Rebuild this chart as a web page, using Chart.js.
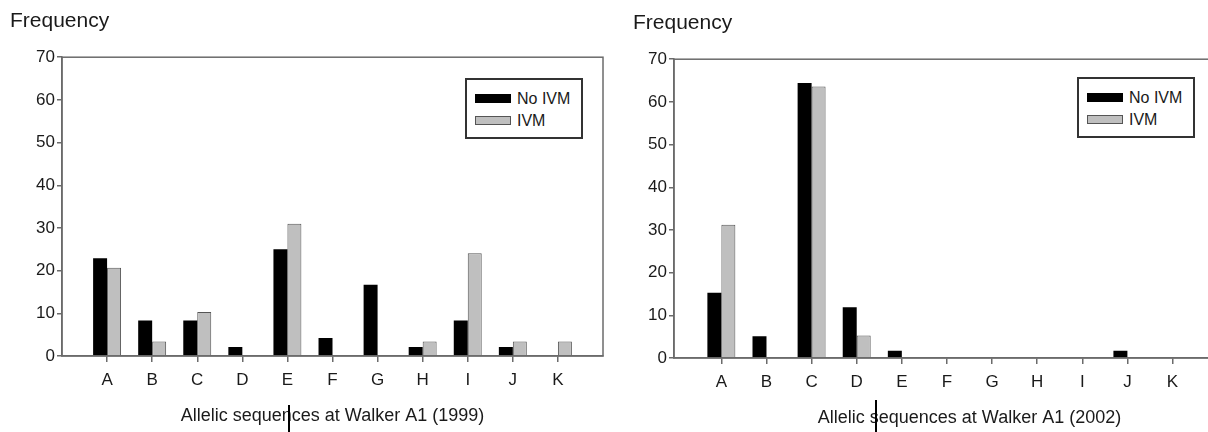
<!DOCTYPE html>
<html lang="en">
<head>
  <meta charset="UTF-8" />
  <title>Allelic sequences at Walker A1</title>
  <script src="https://cdn.jsdelivr.net/npm/chart.js"></script>
  <style>
    html, body { margin: 0; padding: 0; background: #fff; overflow: hidden; }
    body { width: 1208px; height: 432px; position: relative; font-family: "Liberation Sans", Arial, sans-serif; color: #1a1a1a; }
    .panel { position: absolute; top: 0; height: 432px; }
    .panel canvas { display: block; }
    .legend { position: absolute; top: 78px; width: 114px; height: 57px; border: 2px solid #333; background: #fff; }
    .legend div { position: absolute; left: 8px; font-size: 16px; line-height: 18px; }
    .legend span { display: inline-block; width: 36px; height: 9px; margin-right: 6px; vertical-align: 1px; box-sizing: border-box; }
    .mark { position: absolute; width: 2px; background: #000; }
  </style>
</head>
<body>
  <div class="panel" id="p1999" style="left:0; width:612px;">
    <canvas id="chart1999" width="612" height="432"></canvas>
    <div class="legend" style="left:465px;"></div>
  </div>
  <div class="panel" id="p2002" style="left:612px; width:662px; top:2px;">
    <canvas id="chart2002" width="662" height="432"></canvas>
    <div class="legend" style="left:465px; top:75px;"></div>
  </div>
  <div class="mark" style="left:288px; top:405px; height:27px;"></div>
  <div class="mark" style="left:875px; top:400px; height:32px;"></div>

  <script>
    // categories and series
    const alleles = ['A', 'B', 'C', 'D', 'E', 'F', 'G', 'H', 'I', 'J', 'K'];
    const seriesNames = ['No IVM', 'IVM'];
    const yMax = 70;
    const yStep = 10;

    // 1999 frequencies (%)
    const noIvm1999 = [22.9, 8.3, 8.3, 2.1, 25.0, 4.2, 16.7, 2.1, 8.3, 2.1, 0];
    const ivm1999 = [20.7, 3.4, 10.3, 0, 31.0, 0, 0, 3.4, 24.1, 3.4, 3.4];

    // 2002 frequencies (%)
    const noIvm2002 = [15.3, 5.1, 64.4, 11.9, 1.7, 0, 0, 0, 0, 1.7, 0];
    const ivm2002 = [31.2, 0, 63.6, 5.3, 0, 0, 0, 0, 0, 0, 0];

    const fills = ['#000000', '#bfbfbf'];
    const edges = ['#000000', '#555555'];
    const axisColor = '#6b6b6b';
    const textColor = '#1a1a1a';
    const fontFamily = '"Liberation Sans", Arial, sans-serif';

    // box round the plot area
    const frame = {
      id: 'frame',
      afterDatasetsDraw(chart) {
        const a = chart.chartArea;
        const ctx = chart.ctx;
        ctx.save();
        ctx.strokeStyle = axisColor;
        ctx.lineWidth = 1.5;
        ctx.strokeRect(a.left, a.top, a.right - a.left, a.bottom - a.top);
        ctx.restore();
      }
    };

    function toPoints(values) {
      return values.map((v, i) => ({ x: i, y: v }));
    }

    function fillLegend(panel) {
      const box = document.querySelector(panel + ' .legend');
      box.innerHTML = seriesNames.map((name, i) =>
        `<div style="top:${10 + i * 22}px"><span style="background:${fills[i]};border:1px solid ${edges[i]}"></span>${name}</div>`
      ).join('');
    }

    function makeChart(id, xTitle, noIvm, ivm, xMin, xMax, padLeft) {
      new Chart(document.getElementById(id), {
        type: 'bar',
        data: {
          datasets: [noIvm, ivm].map((vals, i) => ({
            label: seriesNames[i],
            data: toPoints(vals),
            backgroundColor: fills[i],
            borderColor: edges[i],
            borderWidth: i === 1 ? 1 : 0,
            categoryPercentage: 0.62,
            barPercentage: 1.0
          }))
        },
        options: {
          responsive: false,
          animation: false,
          layout: { padding: { left: padLeft, right: 9, top: 0, bottom: 0 } },
          plugins: {
            legend: { display: false },
            tooltip: { enabled: false },
            title: {
              display: true,
              text: 'Frequency',
              align: 'start',
              color: textColor,
              font: { family: fontFamily, size: 21, weight: 'normal' },
              padding: { top: 9, bottom: 23 }
            }
          },
          scales: {
            x: {
              type: 'linear',
              min: xMin,
              max: xMax,
              offset: false,
              afterBuildTicks: axis => {
                axis.ticks = alleles.map((_, i) => ({ value: i }));
              },
              ticks: {
                autoSkip: false,
                color: textColor,
                font: { family: fontFamily, size: 17 },
                padding: 8,
                maxRotation: 0,
                callback: v => alleles[v] || ''
              },
              grid: { offset: false, drawOnChartArea: false, drawTicks: true, tickLength: 6, color: axisColor, lineWidth: 1.5 },
              border: { display: true, color: axisColor, width: 1.5 },
              title: {
                display: true,
                text: xTitle,
                color: textColor,
                font: { family: fontFamily, size: 18 },
                padding: { top: 7, bottom: 5 }
              }
            },
            y: {
              min: 0,
              max: yMax,
              afterFit: scale => { scale.width = 62 - padLeft; },
              ticks: {
                stepSize: yStep,
                color: textColor,
                font: { family: fontFamily, size: 17 },
                padding: 2
              },
              grid: { drawOnChartArea: false, drawTicks: true, tickLength: 5, color: axisColor, lineWidth: 1.5 },
              border: { display: true, color: axisColor, width: 1.5 }
            }
          }
        },
        plugins: [frame]
      });
    }

    makeChart('chart1999', 'Allelic sequences at Walker A1 (1999)', noIvm1999, ivm1999, -1.0, 11.0, 10);
    makeChart('chart2002', 'Allelic sequences at Walker A1 (2002)', noIvm2002, ivm2002, -1.05, 12.05, 21);
    fillLegend('#p1999');
    fillLegend('#p2002');
  </script>
</body>
</html>
